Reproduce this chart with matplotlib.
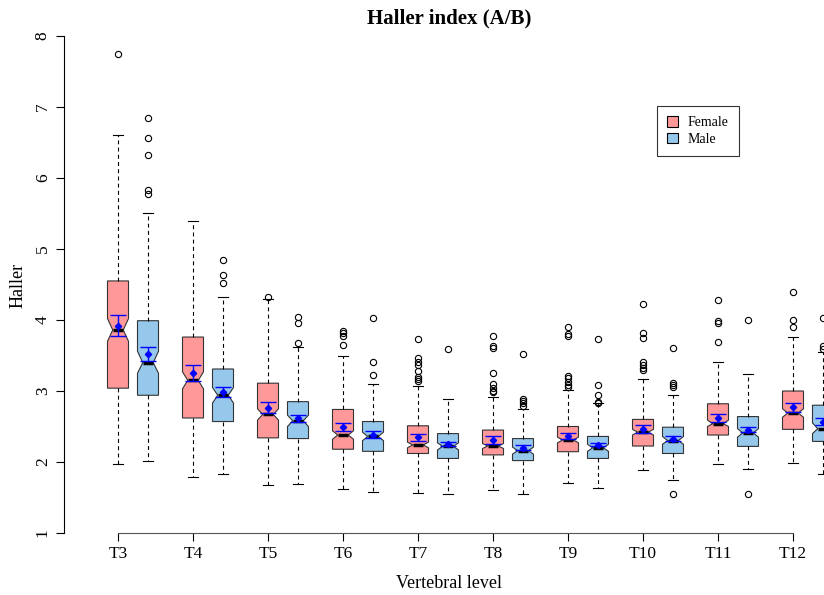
import matplotlib
matplotlib.use("Agg")
import matplotlib.pyplot as plt
from matplotlib.patches import Patch
import numpy as np

plt.rcParams['font.family'] = ['Liberation Serif', 'DejaVu Serif']

levels = ['T3', 'T4', 'T5', 'T6', 'T7', 'T8', 'T9', 'T10', 'T11', 'T12']

# Female boxes
f_q1 = [3.04, 2.62, 2.34, 2.18, 2.12, 2.10, 2.145, 2.225, 2.38, 2.46]
f_med = [3.86, 3.15, 2.67, 2.38, 2.24, 2.225, 2.31, 2.42, 2.54, 2.69]
f_q3 = [4.55, 3.76, 3.11, 2.74, 2.51, 2.45, 2.50, 2.60, 2.82, 3.00]
f_lo = [1.97, 1.79, 1.67, 1.62, 1.56, 1.60, 1.70, 1.89, 1.97, 1.98]
f_hi = [6.60, 5.39, 4.30, 3.49, 3.07, 2.91, 3.01, 3.165, 3.41, 3.76]
f_cilo = [3.70, 3.03, 2.59, 2.32, 2.20, 2.19, 2.27, 2.38, 2.50, 2.63]
f_cihi = [4.02, 3.27, 2.75, 2.44, 2.28, 2.26, 2.35, 2.46, 2.59, 2.75]
f_out = [[7.74], [], [4.32], [3.85, 3.81, 3.78, 3.65],
         [3.73, 3.46, 3.41, 3.36, 3.28, 3.20, 3.17, 3.14],
         [3.78, 3.63, 3.61, 3.25, 3.10, 3.04, 3.00, 2.98],
         [3.90, 3.80, 3.78, 3.21, 3.19, 3.12, 3.08, 3.05],
         [4.22, 3.81, 3.74, 3.41, 3.37, 3.33, 3.29],
         [4.28, 3.99, 3.96, 3.69], [4.39, 4.00, 3.90]]
f_mean = [3.92, 3.25, 2.76, 2.49, 2.35, 2.31, 2.37, 2.47, 2.62, 2.77]
f_mlo = [3.78, 3.14, 2.69, 2.44, 2.30, 2.26, 2.32, 2.41, 2.57, 2.70]
f_mhi = [4.07, 3.36, 2.84, 2.545, 2.40, 2.36, 2.41, 2.52, 2.67, 2.83]

# Male boxes
m_q1 = [2.94, 2.57, 2.33, 2.15, 2.05, 2.02, 2.05, 2.12, 2.22, 2.29]
m_med = [3.40, 2.94, 2.58, 2.36, 2.22, 2.16, 2.20, 2.30, 2.41, 2.47]
m_q3 = [3.99, 3.31, 2.85, 2.57, 2.40, 2.33, 2.36, 2.49, 2.64, 2.80]
m_lo = [2.01, 1.83, 1.69, 1.58, 1.55, 1.55, 1.64, 1.74, 1.90, 1.83]
m_hi = [5.51, 4.33, 3.62, 3.10, 2.89, 2.75, 2.83, 2.94, 3.24, 3.55]
m_cilo = [3.25, 2.83, 2.50, 2.30, 2.17, 2.11, 2.15, 2.25, 2.35, 2.40]
m_cihi = [3.56, 3.05, 2.66, 2.42, 2.27, 2.21, 2.25, 2.36, 2.47, 2.55]
m_out = [[6.84, 6.57, 6.32, 5.83, 5.78], [4.84, 4.63, 4.52],
         [4.04, 3.96, 3.67], [4.03, 3.41, 3.23], [3.59],
         [3.52, 2.89, 2.86, 2.83, 2.79],
         [3.73, 3.08, 2.95, 2.85, 2.83],
         [3.60, 3.11, 3.08, 3.05, 1.55], [4.00, 1.55], [4.03, 3.64, 3.59]]
m_mean = [3.52, 2.98, 2.62, 2.38, 2.25, 2.20, 2.235, 2.33, 2.45, 2.57]
m_mlo = [3.42, 2.92, 2.57, 2.34, 2.23, 2.17, 2.22, 2.29, 2.42, 2.52]
m_mhi = [3.62, 3.05, 2.66, 2.43, 2.28, 2.235, 2.27, 2.36, 2.49, 2.62]

col_f = '#FF9999'
col_m = '#96C8EC'


def make_stats(q1, med, q3, lo, hi, cilo, cihi, out):
    st = []
    for i in range(len(med)):
        st.append(dict(q1=q1[i], med=med[i], q3=q3[i], whislo=lo[i], whishi=hi[i],
                       cilo=cilo[i], cihi=cihi[i], fliers=np.array(out[i])))
    return st


W, H = 824, 595
fig = plt.figure(figsize=(W / 100, H / 100), dpi=100)
ax = fig.add_axes([64 / W, (H - 533) / H, (W - 64) / W, (533 - 36) / H])

pos = np.arange(len(levels))
bw = 0.28

common = dict(widths=bw, shownotches=True, patch_artist=True,
              whiskerprops=dict(linestyle=(0, (3.5, 3)), color='black', linewidth=0.8),
              capprops=dict(color='black', linewidth=0.8),
              medianprops=dict(color='black', linewidth=2.5),
              flierprops=dict(marker='o', markerfacecolor='none', markeredgecolor='black',
                              markersize=4.5, markeredgewidth=0.8),
              capwidths=bw * 0.5, manage_ticks=False)

ax.bxp(make_stats(f_q1, f_med, f_q3, f_lo, f_hi, f_cilo, f_cihi, f_out), positions=pos,
       boxprops=dict(facecolor=col_f, edgecolor='#333333', linewidth=0.8), **common)
ax.bxp(make_stats(m_q1, m_med, m_q3, m_lo, m_hi, m_cilo, m_cihi, m_out), positions=pos + 0.4,
       boxprops=dict(facecolor=col_m, edgecolor='#333333', linewidth=0.8), **common)

# mean +/- CI
for p, mn, lo, hi in [(pos, f_mean, f_mlo, f_mhi), (pos + 0.4, m_mean, m_mlo, m_mhi)]:
    mn = np.array(mn)
    ax.errorbar(p, mn, yerr=[mn - np.array(lo), np.array(hi) - mn], fmt='D', color='blue',
                markersize=3.2, capsize=5.5, elinewidth=1, capthick=1, zorder=5)

ax.set_xlim(-0.72, (W - 118) / 75)
ax.set_ylim(1, 8)
for s in ['top', 'right']:
    ax.spines[s].set_visible(False)
ax.spines['left'].set_bounds(1, 8)
ax.spines['bottom'].set_bounds(0, 9)
ax.spines['bottom'].set_color('#555555')
ax.set_xticks(pos)
ax.set_xticklabels(levels, fontsize=12.5)
ax.set_yticks(range(1, 9))
ax.set_yticklabels([str(v) for v in range(1, 9)], rotation=90, va='center', fontsize=12.5)
ax.tick_params(direction='out', length=5.5, width=0.8, pad=4)
ax.patch.set_alpha(0)

fig.text(449 / W, 1 - 18 / H, 'Haller index (A/B)', ha='center', va='center',
         fontsize=15, fontweight='bold')
fig.text(449 / W, 1 - 583 / H, 'Vertebral level', ha='center', va='center', fontsize=13)
fig.text(18 / W, 1 - 285 / H, 'Haller', ha='center', va='center', rotation=90, fontsize=13)

handles = [Patch(facecolor=col_f, edgecolor='black', linewidth=0.8, label='Female'),
           Patch(facecolor=col_m, edgecolor='black', linewidth=0.8, label='Male')]
leg = fig.legend(handles=handles, loc='upper left', bbox_to_anchor=(657 / W, 1 - 106 / H),
                 fontsize=10, frameon=True, fancybox=False, borderaxespad=0,
                 handlelength=0.75, handleheight=0.75, handletextpad=0.7, labelspacing=0.25,
                 borderpad=0.75)
leg.get_frame().set_edgecolor('black')
leg.get_frame().set_linewidth(0.8)

fig.savefig('out.png', dpi=100)
